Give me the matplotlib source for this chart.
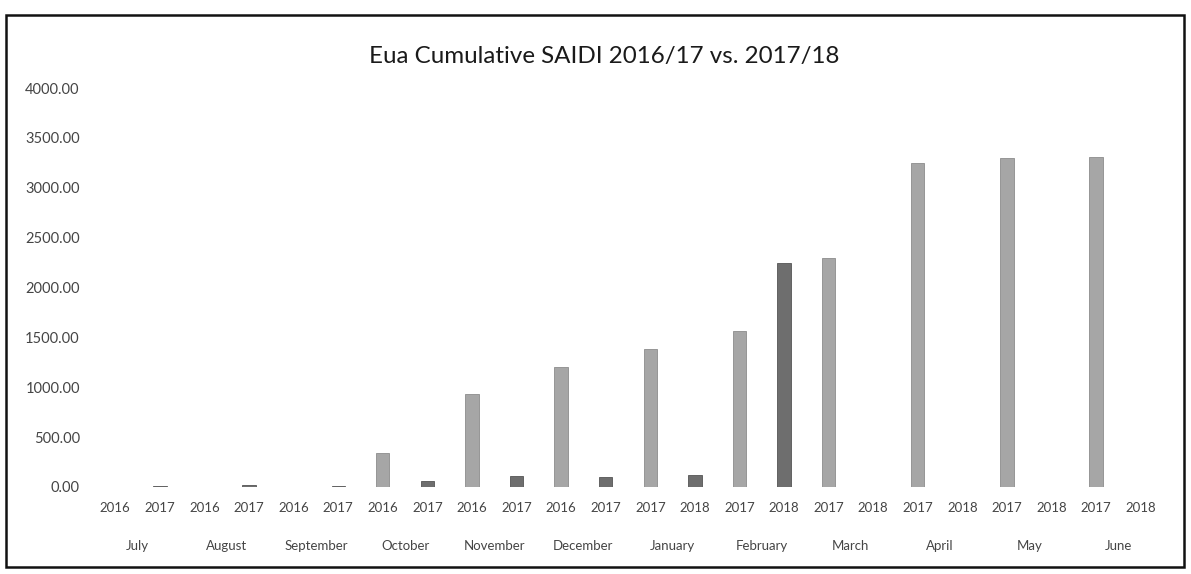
import matplotlib
matplotlib.use("Agg")
import matplotlib.pyplot as plt
from matplotlib.patches import Rectangle
from matplotlib.transforms import offset_copy
import numpy as np

# ---- data ----
months = ["July", "August", "September", "October", "November", "December",
          "January", "February", "March", "April", "May", "June"]
year_first = ["2016"] * 6 + ["2017"] * 6     # FY 2016/17 position
year_second = ["2017"] * 6 + ["2018"] * 6    # FY 2017/18 position
saidi_1617 = [0, 0, 0, 340, 930, 1200, 1380, 1560, 2300, 3250, 3300, 3310]
saidi_1718 = [15, 20, 15, 60, 110, 100, 120, 2250, 0, 0, 0, 0]
title = "Eua Cumulative SAIDI 2016/17 vs. 2017/18"
y_ticks = [0, 500, 1000, 1500, 2000, 2500, 3000, 3500, 4000]

# ---- figure ----
W, H = 1191, 574
fig = plt.figure(figsize=(W / 100, H / 100), dpi=100)
fig.patch.set_facecolor("white")

ax = fig.add_axes([93 / W, 1 - 487 / H, (1163 - 93) / W, (487 - 88) / H])

n = len(months)
pos_first = np.arange(n) * 2
pos_second = np.arange(n) * 2 + 1
bw = 0.3
ax.bar(pos_first, saidi_1617, width=bw, color="#a6a6a6", edgecolor="#8c8c8c", linewidth=0.6)
ax.bar(pos_second, saidi_1718, width=bw, color="#6e6e6e", edgecolor="#555555", linewidth=0.6)

ax.set_xlim(-0.5, 2 * n - 0.5)
ax.set_ylim(0, 4000)
ax.set_yticks(y_ticks)
ax.set_yticklabels([f"{v:.2f}" for v in y_ticks])

xt = np.ravel(np.column_stack([pos_first, pos_second]))
xl = [y for pair in zip(year_first, year_second) for y in pair]
ax.set_xticks(xt)
ax.set_xticklabels(xl)

for s in ax.spines.values():
    s.set_visible(False)
ax.tick_params(axis="both", length=0, colors="#454545", labelsize=9.5)
ax.tick_params(axis="y", labelsize=10.5, pad=9.5)
ax.tick_params(axis="x", pad=11)
for lab in ax.get_xticklabels() + ax.get_yticklabels():
    lab.set_fontfamily("Lato")

# month labels
tr = offset_copy(ax.get_xaxis_transform(), fig=fig, x=0, y=-59, units="dots")
for i, m in enumerate(months):
    ax.text(2 * i + 0.5, 0, m, transform=tr, ha="center", va="center",
            fontsize=9.5, color="#454545", family="Lato")

# title
fig.text(604 / W, 1 - 57 / H, title, ha="center", va="center",
         fontsize=17.4, color="#1a1a1a", family="Lato")

# outer frame
fig.patches.append(Rectangle((6 / W, 1 - 567 / H), (1184 - 6) / W, (567 - 15) / H,
                             transform=fig.transFigure, fill=False,
                             edgecolor="#111111", linewidth=1.8))

fig.savefig("out.png", dpi=100, facecolor="white")
